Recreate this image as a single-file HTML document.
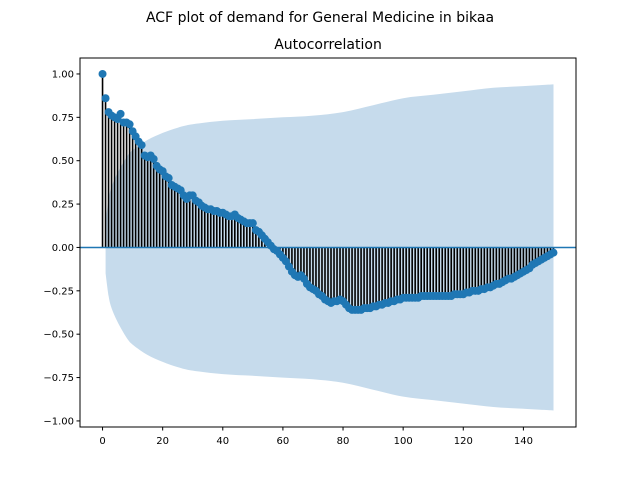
<!DOCTYPE html>
<html><head><meta charset="utf-8"><style>
body{margin:0;background:#fff}
svg{display:block;font-family:"DejaVu Sans","Liberation Sans",sans-serif}
</style></head><body>
<svg id="chart" width="640" height="480" viewBox="0 0 640 480" xmlns="http://www.w3.org/2000/svg">
<rect width="640" height="480" fill="#fff"/>
<text x="320" y="22" text-anchor="middle" font-size="14">ACF plot of demand for General Medicine in bikaa</text>
<text x="328" y="49" text-anchor="middle" font-size="14">Autocorrelation</text>
<g id="band"></g>
<g id="stems"></g>
<g id="zero"></g>
<g id="markers"></g>
<rect x="80" y="58" width="496" height="369" fill="none" stroke="#000" stroke-width="1"/>
<g id="xticks"></g>
<g id="yticks"></g>
</svg>
<script>
const acf=[1.0,0.86,0.78,0.76,0.75,0.74,0.77,0.72,0.72,0.71,0.67,0.64,0.61,0.59,0.53,0.52,0.53,0.51,0.47,0.45,
0.44,0.41,0.40,0.36,0.35,0.34,0.33,0.30,0.28,0.30,0.30,0.27,0.26,0.24,0.23,0.22,0.22,0.21,0.21,0.20,
0.20,0.19,0.18,0.18,0.19,0.17,0.16,0.15,0.14,0.14,0.14,0.10,0.09,0.07,0.05,0.03,0.01,-0.01,-0.02,-0.04,
-0.06,-0.08,-0.11,-0.14,-0.16,-0.17,-0.16,-0.18,-0.21,-0.23,-0.24,-0.25,-0.27,-0.28,-0.30,-0.31,-0.32,-0.31,-0.31,-0.30,
-0.31,-0.33,-0.35,-0.36,-0.36,-0.36,-0.36,-0.35,-0.35,-0.35,-0.34,-0.34,-0.33,-0.33,-0.32,-0.32,-0.31,-0.31,-0.30,-0.30,
-0.29,-0.29,-0.29,-0.29,-0.29,-0.29,-0.28,-0.28,-0.28,-0.28,-0.28,-0.28,-0.28,-0.28,-0.28,-0.28,-0.28,-0.27,-0.27,-0.27,
-0.27,-0.26,-0.26,-0.25,-0.25,-0.25,-0.24,-0.24,-0.23,-0.23,-0.22,-0.21,-0.21,-0.20,-0.19,-0.18,-0.18,-0.17,-0.16,-0.15,
-0.14,-0.13,-0.12,-0.10,-0.09,-0.08,-0.07,-0.06,-0.05,-0.04,-0.03];
const bandLags=[1,2,3,5,8,10,15,20,25,30,40,50,60,70,80,90,100,110,120,130,140,150];
const bandWidth=[0.15,0.28,0.35,0.43,0.52,0.56,0.62,0.66,0.69,0.71,0.73,0.74,0.75,0.76,0.78,0.82,0.86,0.88,0.90,0.92,0.93,0.94];
const xTicks=[0,20,40,60,80,100,120,140];
const yTicks=[1.00,0.75,0.50,0.25,0.00,-0.25,-0.50,-0.75,-1.00];
const NS="http://www.w3.org/2000/svg";
const X0=80,X1=576,Y0=58,Y1=427;
const xMin=-7.5,xMax=157.5,yMin=-1.035,yMax=1.092;
const sx=v=>X0+(v-xMin)/(xMax-xMin)*(X1-X0);
const sy=v=>Y1-(v-yMin)/(yMax-yMin)*(Y1-Y0);
function mk(tag,attrs,parent){const e=document.createElementNS(NS,tag);for(const k in attrs)e.setAttribute(k,attrs[k]);parent.appendChild(e);return e;}
// smooth curve through points (Catmull-Rom -> cubic bezier)
function smooth(pts){
  let d='';
  for(let i=0;i<pts.length-1;i++){
    const p0=pts[Math.max(0,i-1)],p1=pts[i],p2=pts[i+1],p3=pts[Math.min(pts.length-1,i+2)];
    const c1=[p1[0]+(p2[0]-p0[0])/6,p1[1]+(p2[1]-p0[1])/6];
    const c2=[p2[0]-(p3[0]-p1[0])/6,p2[1]-(p3[1]-p1[1])/6];
    d+=' C'+c1[0].toFixed(1)+','+c1[1].toFixed(1)+' '+c2[0].toFixed(1)+','+c2[1].toFixed(1)+' '+p2[0].toFixed(1)+','+p2[1].toFixed(1);
  }
  return d;
}
const upPts=bandLags.map((l,i)=>[sx(l),sy(bandWidth[i])]);
const loPts=bandLags.map((l,i)=>[sx(l),sy(-bandWidth[i])]).reverse();
let d='M'+upPts[0][0].toFixed(1)+','+upPts[0][1].toFixed(1)+smooth(upPts)+' L'+loPts[0][0].toFixed(1)+','+loPts[0][1].toFixed(1)+smooth(loPts)+' Z';
const bp=mk('path',{d:d,fill:'#c6dbec'},document.getElementById('band'));


const sg=document.getElementById('stems');
acf.forEach((v,i)=>{const l=mk('line',{x1:sx(i),x2:sx(i),y1:sy(0),y2:sy(v),stroke:'#000','stroke-width':1.6},sg);

});
const zl=mk('line',{x1:X0,x2:X1,y1:sy(0),y2:sy(0),stroke:'#1f77b4','stroke-width':1.5},document.getElementById('zero'));


const mg=document.getElementById('markers');
acf.forEach((v,i)=>{const c=mk('circle',{cx:sx(i),cy:sy(v),r:4,fill:'#1f77b4'},mg);

});
const xg=document.getElementById('xticks');
xTicks.forEach(t=>{mk('line',{x1:sx(t),x2:sx(t),y1:Y1,y2:Y1+3.5,stroke:'#000'},xg);
const tx=mk('text',{x:sx(t),y:Y1+17,'text-anchor':'middle','font-size':10},xg);tx.textContent=t;

});
const yg=document.getElementById('yticks');
yTicks.forEach(t=>{mk('line',{x1:X0-3.5,x2:X0,y1:sy(t),y2:sy(t),stroke:'#000'},yg);
const tx=mk('text',{x:X0-6,y:sy(t)+3.5,'text-anchor':'end','font-size':10},yg);tx.textContent=t.toFixed(2).replace('-','−');

});
</script>
</body></html>
